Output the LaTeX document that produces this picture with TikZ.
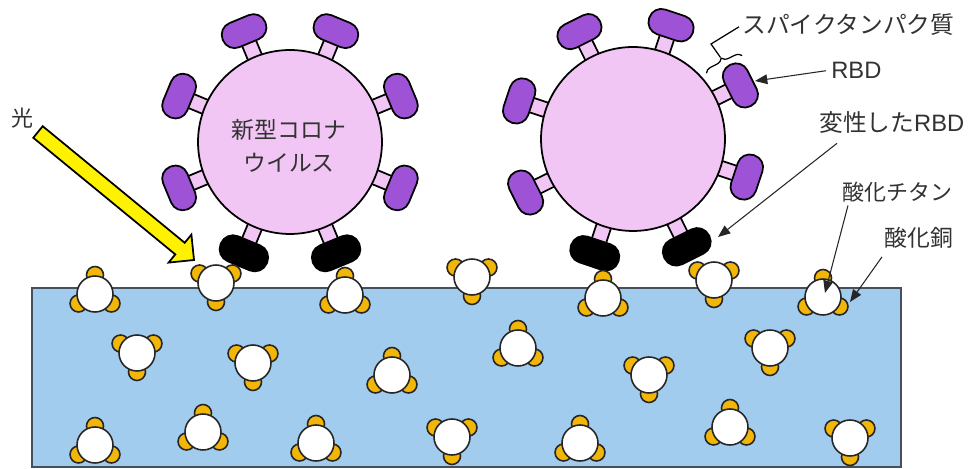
\documentclass[tikz,border=0pt]{standalone}
\usepackage{fontspec}
\setmainfont{Noto Sans CJK JP}
\newfontfamily\latinpart{Liberation Sans}
\usetikzlibrary{calc,arrows.meta,decorations.pathreplacing}

\definecolor{skin}{RGB}{242,198,244}
\definecolor{rbdpurple}{RGB}{158,82,214}
\definecolor{plate}{RGB}{162,204,238}
\definecolor{plateedge}{RGB}{70,80,92}
\definecolor{cuyellow}{RGB}{242,182,8}
\definecolor{inktext}{RGB}{50,50,50}

\tikzset{
  outline/.style={draw=black, line width=1pt},
  stalk/.style={outline, fill=skin},
  coreshell/.style={outline, fill=skin},
  rbd/.style={outline, fill=rbdpurple, rounded corners=0.25cm},
  rbddead/.style={draw=black, line width=1pt, fill=black, rounded corners=0.26cm},
  lobe/.style={draw=black!85, line width=0.9pt, fill=cuyellow},
  tio2/.style={draw=black!85, line width=0.9pt, fill=white},
  % titanium oxide grain with three copper oxide lobes; #1 turns the lobes
  tiox/.pic={
    \foreach \a in {90,210,330}{\draw[lobe] (\a+#1:19) circle[radius=8.5];}
    \draw[tio2] (0,0) circle[radius=18];
  },
  lbl/.style={inner sep=0pt, text=inktext, font=\fontsize{13.5pt}{16pt}\selectfont},
  ptr/.style={draw=black!85, line width=0.6pt, -{Triangle[length=7pt,width=5.5pt]}},
  lightray/.style={draw=black, line width=1pt, fill=yellow, line join=miter},
}

% virus body: name, centre x, centre y, angle of the first spike
\newcommand\drawcorona[4]{%
  \begin{scope}[shift={(#2,#3)}]
    \foreach \k in {0,...,7}
      \draw[stalk, rotate={#4+45*\k}] (80,-7.5) rectangle (109,7.5);
    \node[circle, coreshell, minimum size=3.68cm, inner sep=0pt] (#1) at (0,0) {};
    \foreach \k in {0,...,4,7}
      \draw[rbd, rotate={#4+45*\k}] (107,-23) rectangle (133,23);
    \foreach \k in {5,6}
      \draw[rbddead, rotate={#4+45*\k}] (107,-25) rectangle (134,25);
  \end{scope}}

\begin{document}
\begin{tikzpicture}[x=0.02cm,y=0.02cm]
  \useasboundingbox (0,0) rectangle (968,-469);
  \fill[white] (0,0) rectangle (968,-469);

  % coated surface
  \draw[draw=plateedge, line width=1.2pt, fill=plate] (32,-288) rectangle (901,-467);

  % viruses
  \drawcorona{virusL}{290}{-142}{22.5}
  \drawcorona{virusR}{633}{-139}{26.5}
  \node[lbl, align=center, font=\fontsize{13pt}{18.5pt}\selectfont] (virusName)
    at (289,-146) {新型コロナ\\ウイルス};

  % catalyst grains
  \foreach \x/\y in {95/294, 345/295, 603/298, 823/297, 518/348, 392/375,
                     95/445, 203/432, 316/443, 580/443, 730/427}
    \pic at (\x,-\y) {tiox=0};
  \foreach \x/\y in {216/283, 472/277, 714/280, 137/353, 253/363, 649/375,
                     770/348, 452/437, 850/438}
    \pic at (\x,-\y) {tiox=180};

  % incoming light
  \draw[lightray] (33.3,-137.8) -- (175.3,-254.4) -- (168.6,-262.6) -- (194,-260)
    -- (191.4,-234.6) -- (184.7,-242.8) -- (42.7,-126.2) -- cycle;
  \node[lbl, font=\fontsize{12.5pt}{15pt}\selectfont] (tLight) at (22,-118) {光};

  % labels
  \node[lbl, anchor=west] (tSpike) at (742,-25) {スパイクタンパク質};
  \node[lbl, anchor=west] (tRBD) at (831,-70) {\latinpart RBD};
  \node[lbl, anchor=west] (tDen) at (819,-123) {変性した{\latinpart RBD}};
  \node[lbl, anchor=west, font=\fontsize{12.5pt}{15pt}\selectfont] (tTi) at (842,-192) {酸化チタン};
  \node[lbl, anchor=west, font=\fontsize{13pt}{15pt}\selectfont] (tCu) at (884,-238) {酸化銅};

  % spike protein brace and leader
  \draw[line width=0.7pt, decorate, decoration={brace, amplitude=0.14cm}]
    (706.4,-73.3) -- (742.2,-55.5);
  \coordinate (spikeBrace) at (720.5,-57.5);
  \coordinate (spikeBend) at (711,-44);
  \draw[line width=0.7pt, shorten >=2pt] (spikeBrace) -- (spikeBend) -- (tSpike.west);

  % pointers
  \coordinate (rbdTip) at (755,-81);
  \coordinate (denTip) at (718,-237);
  \coordinate (tiTip) at (825,-293);
  \coordinate (cuTip) at (850,-302);
  \draw[ptr, shorten <=3pt] (tRBD.west) -- (rbdTip);
  \draw[ptr] ($(tDen.south west)+(18,-9)$) -- (denTip);
  \draw[ptr] ($(tTi.south west)+(6,-3)$) -- (tiTip);
  \draw[ptr] ($(tCu.south west)+(-2,-8)$) -- (cuTip);
\end{tikzpicture}
\end{document}
